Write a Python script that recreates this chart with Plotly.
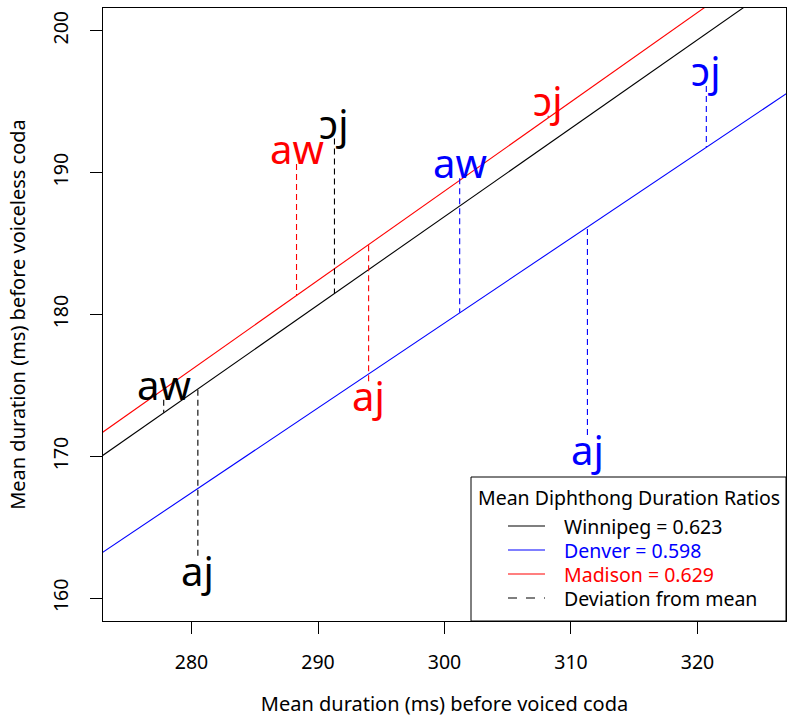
import plotly.graph_objects as go

# ---- data ----
dialects = ["Winnipeg", "Denver", "Madison"]
ratios = [0.623, 0.598, 0.629]
colors = ["#000000", "#0000FF", "#FF0000"]
vowels = ["aw", "aj", "ɔj"]

winnipeg_voiced = [277.8, 280.5, 291.3]
winnipeg_voiceless = [174.0, 163.0, 192.4]
denver_voiced = [301.2, 311.3, 320.7]
denver_voiceless = [189.6, 171.5, 196.1]
madison_voiced = [288.3, 294.0, 308.2]
madison_voiceless = [190.6, 175.3, 194.0]

x_ticks = [280, 290, 300, 310, 320]
y_ticks = [160, 170, 180, 190, 200]

legend_title = "Mean Diphthong Duration Ratios"
deviation_label = "Deviation from mean"

xs = [winnipeg_voiced, denver_voiced, madison_voiced]
ys = [winnipeg_voiceless, denver_voiceless, madison_voiceless]

FONT = "Noto Sans"
x_range = [273, 327]
y_range = [158.4, 201.6]

W, H = 787, 717
ML, MR, MT, MB = 103, 1, 8, 96
PW, PH = W - ML - MR, H - MT - MB


def px_x(px):
    return (px - ML) / PW


def px_y(py):
    return (H - MB - py) / PH


fig = go.Figure()

# mean-ratio lines (through origin)
line_x = [260, 340]
for name, r, c in zip(dialects, ratios, colors):
    fig.add_trace(go.Scatter(
        x=line_x, y=[r * v for v in line_x], mode="lines",
        line=dict(color=c, width=1.1), showlegend=False,
        name=f"{name} = {r:.3f}", hoverinfo="skip"))

# deviation segments
for name, r, c, xv, yv in zip(dialects, ratios, colors, xs, ys):
    sx, sy = [], []
    for a, b in zip(xv, yv):
        sx += [a, a, None]
        sy += [b, r * a, None]
    fig.add_trace(go.Scatter(x=sx, y=sy, mode="lines",
                             line=dict(color=c, width=1.1, dash="6px,4px"),
                             showlegend=False, hoverinfo="skip"))

# vowel labels
for r, c, xv, yv in zip(ratios, colors, xs, ys):
    for v, a, b in zip(vowels, xv, yv):
        above = b > r * a
        fig.add_annotation(x=a, y=b, text=v, showarrow=False,
                           xanchor="center",
                           yanchor="bottom" if above else "top",
                           yshift=-14 if above else 15,
                           font=dict(family=FONT, size=40, color=c))

# ---- legend box (drawn like R's legend()) ----
shapes = [dict(type="rect", xref="paper", yref="paper",
               x0=px_x(471), x1=px_x(786), y0=px_y(621), y1=px_y(477),
               line=dict(color="black", width=1), fillcolor="white", layer="above")]
annos = [dict(xref="paper", yref="paper", x=px_x(628.5), y=px_y(497),
              text=legend_title, showarrow=False, xanchor="center", yanchor="middle",
              font=dict(family=FONT, size=19.5, color="black"))]
entries = [(f"{n} = {r:.3f}", c, "solid") for n, r, c in zip(dialects, ratios, colors)]
entries.append((deviation_label, "#000000", "dash"))
for i, (txt, c, dash) in enumerate(entries):
    yy = px_y(526 + 24 * i)
    shapes.append(dict(type="line", xref="paper", yref="paper",
                       x0=px_x(508), x1=px_x(545), y0=yy, y1=yy,
                       line=dict(color=c, width=1.1, dash=dash), layer="above"))
    annos.append(dict(xref="paper", yref="paper", x=px_x(562), y=yy, text=txt,
                      showarrow=False, xanchor="left", yanchor="middle",
                      font=dict(family=FONT, size=19.5, color=c)))

axis_common = dict(showgrid=False, zeroline=False, showline=True,
                   linecolor="black", linewidth=1, mirror=True,
                   ticks="outside", ticklen=12, tickcolor="black", automargin=False,
                   tickfont=dict(family=FONT, size=19.5, color="black"))

fig.update_xaxes(range=x_range, tickvals=x_ticks,
                 ticktext=[str(t) for t in x_ticks],
                 title=dict(text="Mean duration (ms) before voiced coda",
                            font=dict(family=FONT, size=20, color="black"),
                            standoff=24),
                 ticklabelstandoff=12, **axis_common)
fig.update_yaxes(range=y_range, tickvals=y_ticks,
                 ticktext=[str(t) for t in y_ticks], tickangle=-90,
                 title=dict(text="Mean duration (ms) before voiceless coda",
                            font=dict(family=FONT, size=20, color="black"),
                            standoff=16),
                 ticklabelstandoff=14, **axis_common)

fig.update_layout(
    width=W, height=H,
    margin=dict(l=ML, r=MR, t=MT, b=MB, autoexpand=False),
    paper_bgcolor="white", plot_bgcolor="white",
    font=dict(family=FONT, size=19.5, color="black"),
    showlegend=False,
    shapes=shapes, annotations=list(fig.layout.annotations) + annos,
)

fig.write_html("out.html", config={"displayModeBar": False},
               post_script="document.body.style.margin='0';"
                           "document.body.style.overflow='hidden';")
